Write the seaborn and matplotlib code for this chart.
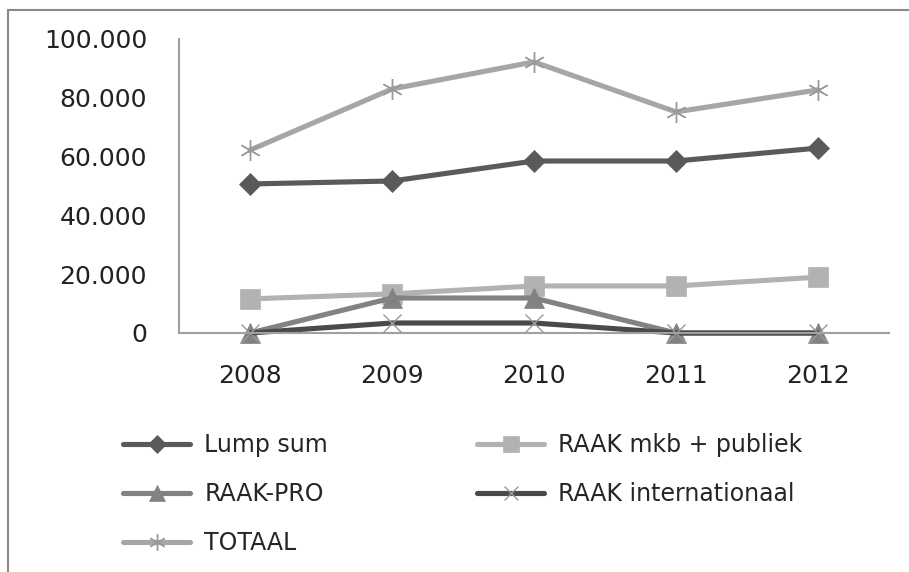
import pandas as pd
import matplotlib.pyplot as plt
import matplotlib.patches as patches
from matplotlib.lines import Line2D
import seaborn as sns

years = ["2008", "2009", "2010", "2011", "2012"]
lump_sum = [50700, 51700, 58500, 58500, 62900]
raak_mkb = [11600, 13300, 16000, 16000, 19000]
raak_pro = [0, 11900, 11900, 0, 0]
raak_int = [0, 3400, 3400, 0, 0]
totaal = [62200, 83000, 92200, 75200, 82700]

series_names = ["Lump sum", "RAAK mkb + publiek", "RAAK-PRO", "RAAK internationaal", "TOTAAL"]
ytick_values = [0, 20000, 40000, 60000, 80000, 100000]
ytick_labels = ["0", "20.000", "40.000", "60.000", "80.000", "100.000"]

df = pd.DataFrame({"Jaar": years, "Lump sum": lump_sum, "RAAK mkb + publiek": raak_mkb,
                   "RAAK-PRO": raak_pro, "RAAK internationaal": raak_int, "TOTAAL": totaal})
df_long = df.melt(id_vars="Jaar", var_name="Reeks", value_name="Bedrag")

line_colors = {"Lump sum": "#5a5a5a", "RAAK mkb + publiek": "#b2b2b2", "RAAK-PRO": "#828282",
               "RAAK internationaal": "#4a4a4a", "TOTAAL": "#a6a6a6"}
marker_colors = {"Lump sum": "#5a5a5a", "RAAK mkb + publiek": "#b2b2b2", "RAAK-PRO": "#828282",
                 "RAAK internationaal": "#9a9a9a", "TOTAAL": "#9a9a9a"}
markers = {"Lump sum": "D", "RAAK mkb + publiek": "s", "RAAK-PRO": "^",
           "RAAK internationaal": "x", "TOTAAL": (6, 2, 0)}
msizes = {"Lump sum": 11, "RAAK mkb + publiek": 14, "RAAK-PRO": 14,
          "RAAK internationaal": 13, "TOTAAL": 15}
thin = ("RAAK internationaal", "TOTAAL")

sns.set_style("white")
plt.rcParams["font.family"] = ["DejaVu Sans"]

fig = plt.figure(figsize=(9.09, 5.72), dpi=100)
ax = fig.add_axes([179 / 909, 1 - 333 / 572, 710 / 909, 294 / 572])

for name in series_names:
    sub = df_long[df_long["Reeks"] == name]
    sns.lineplot(data=sub, x="Jaar", y="Bedrag", color=line_colors[name], marker=markers[name],
                 markersize=msizes[name], markerfacecolor=marker_colors[name],
                 markeredgecolor=marker_colors[name],
                 markeredgewidth=1.0 if name in thin else 0.5,
                 linewidth=3.7, clip_on=False, ax=ax)

ax.set_xlim(-0.5, 4.5)
ax.set_ylim(0, 100000)
ax.set_yticks(ytick_values)
ax.set_yticklabels(ytick_labels)
ax.set_xlabel("")
ax.set_ylabel("")
ax.tick_params(axis="both", length=0, labelsize=18, colors="#222222")
ax.tick_params(axis="y", pad=23)
ax.tick_params(axis="x", pad=22)
ax.grid(False)
for side in ["top", "right"]:
    ax.spines[side].set_visible(False)
for side in ["left", "bottom"]:
    ax.spines[side].set_color("#a0a0a0")
    ax.spines[side].set_linewidth(1.5)

handles = {n: Line2D([0], [0], color=line_colors[n], lw=3.7, marker=markers[n],
                     markersize=msizes[n] * 0.8, markerfacecolor=marker_colors[n],
                     markeredgecolor=marker_colors[n],
                     markeredgewidth=1.0 if n in thin else 0.5)
           for n in series_names}

legend_cols = [(["Lump sum", "RAAK-PRO", "TOTAAL"], 123), (["RAAK mkb + publiek", "RAAK internationaal"], 477)]
for names, x0 in legend_cols:
    leg = fig.legend([handles[n] for n in names], names, ncol=1, frameon=False, fontsize=17,
                     loc="upper left", bbox_to_anchor=(x0 / 909, 1 - 433 / 572),
                     borderpad=0, borderaxespad=0, handlelength=2.85,
                     handletextpad=0.6, labelspacing=1.06)

frame = patches.Rectangle((8 / 909, -0.1), 1.2, (562 / 572) + 0.1, transform=fig.transFigure,
                          fill=False, edgecolor="#8a8a8a", linewidth=1.5)
fig.patches.append(frame)

fig.savefig("out.png", dpi=100)
